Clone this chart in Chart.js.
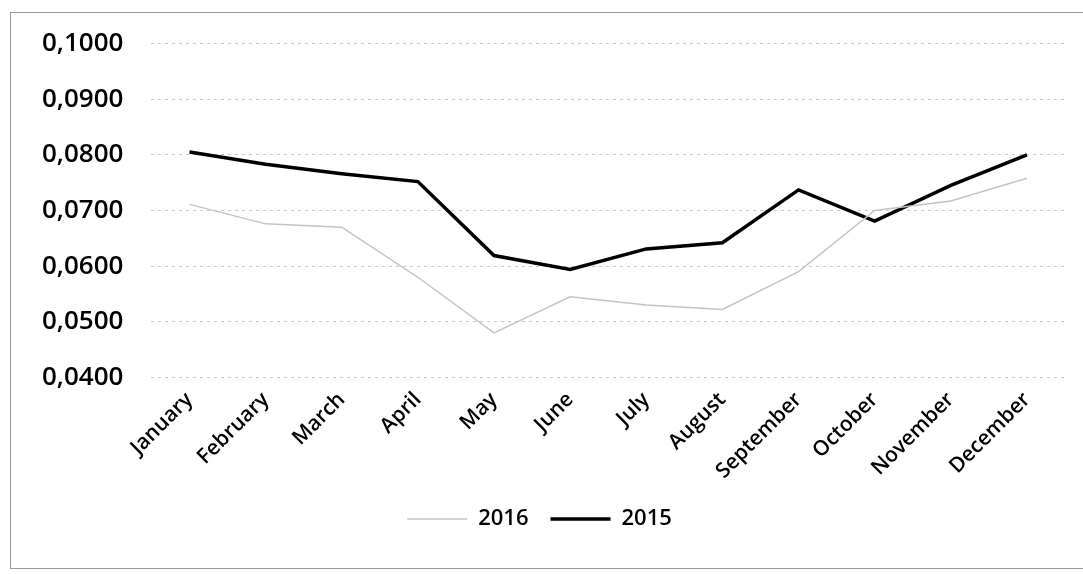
<!DOCTYPE html>
<html>
<head>
<meta charset="utf-8">
<script src="https://cdn.jsdelivr.net/npm/chart.js@4/dist/chart.umd.min.js"></script>
<style>
  body { margin: 0; background: #fff; }
  #wrap { width: 1083px; height: 574px; position: relative; }
</style>
</head>
<body>
<div id="wrap"><canvas id="rateChart" width="1083" height="574"></canvas></div>
<script>
const months = ["January", "February", "March", "April", "May", "June",
  "July", "August", "September", "October", "November", "December"];
const values2016 = [0.0711, 0.0676, 0.0670, 0.0580, 0.0480, 0.0545,
  0.0530, 0.0522, 0.0590, 0.0700, 0.0717, 0.0758];
const values2015 = [0.0805, 0.0783, 0.0766, 0.0752, 0.0619, 0.0594,
  0.0631, 0.0642, 0.0737, 0.0681, 0.0745, 0.0800];
const yTicks = [0.04, 0.05, 0.06, 0.07, 0.08, 0.09, 0.10];

const ctx = document.getElementById("rateChart");

// thin grey frame round the whole chart, like the spreadsheet export
const framePlugin = {
  id: "frame",
  afterDraw: (chart) => {
    const c = chart.ctx;
    c.save();
    c.strokeStyle = "#9a9a9a";
    c.lineWidth = 1;
    c.strokeRect(10.5, 12.5, 1080, 556);
    c.restore();
  },
};

const textFont = { family: "'Open Sans', sans-serif", size: 21, weight: "600" };

new Chart(ctx, {
  type: "line",
  data: {
    labels: months,
    datasets: [
      {
        label: "2016",
        data: values2016,
        borderColor: "#c4c4c4",
        backgroundColor: "#c4c4c4",
        borderWidth: 1.5,
        pointRadius: 0,
        tension: 0,
      },
      {
        label: "2015",
        data: values2015,
        borderColor: "#000000",
        backgroundColor: "#000000",
        borderWidth: 3.5,
        pointRadius: 0,
        tension: 0,
      },
    ],
  },
  options: {
    responsive: false,
    animation: false,
    layout: { padding: { left: 14, right: 18, top: 32, bottom: 34 } },
    scales: {
      x: {
        offset: true,
        grid: { display: false },
        border: { display: false },
        ticks: {
          color: "#000",
          font: textFont,
          maxRotation: 45,
          minRotation: 45,
          autoSkip: false,
          padding: 2,
        },
      },
      y: {
        min: 0.04,
        max: 0.10,
        afterBuildTicks: (axis) => {
          axis.ticks = yTicks.map((v) => ({ value: v }));
        },
        grid: {
          color: "#c8c8c8",
          lineWidth: 1,
          drawTicks: false,
        },
        border: { display: false, dash: [3, 4] },
        ticks: {
          color: "#000",
          font: { family: "'Open Sans', sans-serif", size: 26, weight: "600" },
          padding: 28,
          callback: (v) => v.toFixed(4).replace(".", ","),
        },
      },
    },
    plugins: {
      legend: {
        position: "bottom",
        labels: {
          color: "#000",
          font: { family: "'Open Sans', sans-serif", size: 22, weight: "600" },
          usePointStyle: true,
          pointStyle: "line",
          pointStyleWidth: 60,
          padding: 22,
        },
      },
      tooltip: { enabled: false },
    },
  },
  plugins: [framePlugin],
});
</script>
</body>
</html>
